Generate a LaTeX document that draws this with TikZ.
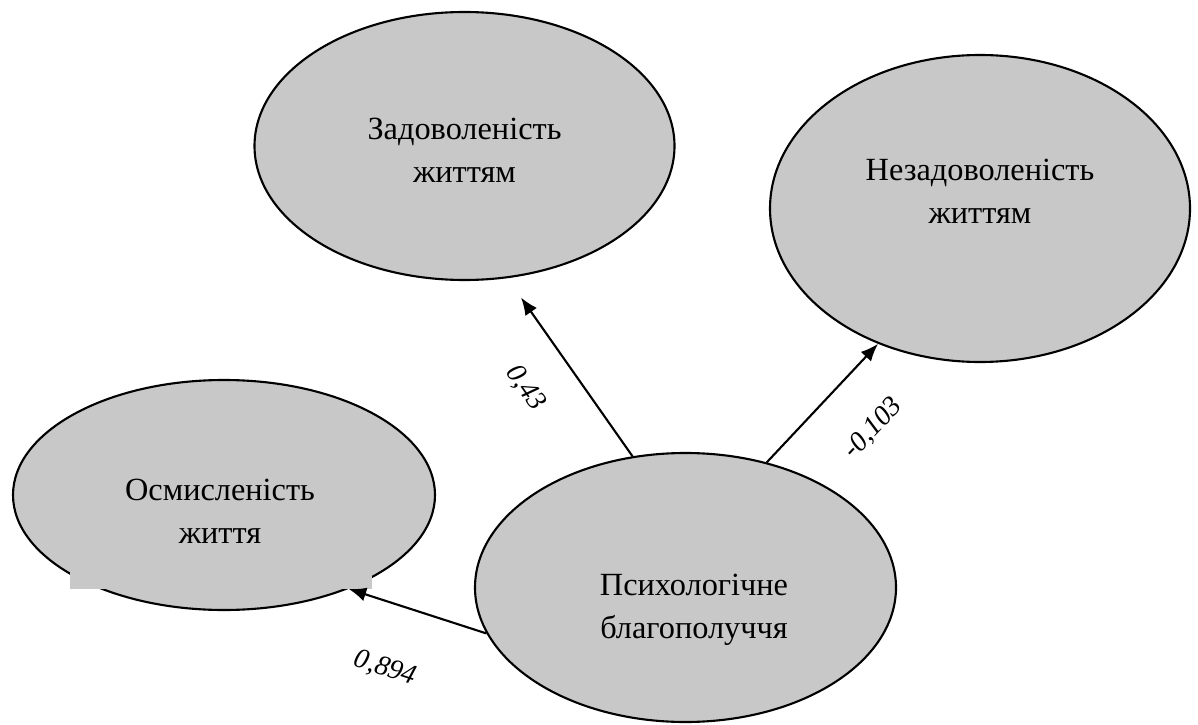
\documentclass[tikz,border=0pt]{standalone}
\usepackage{fontspec}
\setmainfont{Liberation Serif}
\usetikzlibrary{shapes.geometric, arrows.meta, positioning}
\definecolor{ovalgray}{RGB}{200,200,200}

\begin{document}
\begin{tikzpicture}[
  oval/.style={ellipse, draw, line width=0.6pt, fill=ovalgray, inner sep=0pt},
  txt/.style={font=\fontsize{9.2}{12.3}\selectfont, align=center, inner sep=0pt},
  arrowline/.style={-{Latex[length=5pt, width=4pt]}, line width=0.6pt},
  wlabel/.style={font=\fontsize{8}{9}\selectfont\itshape, inner sep=0pt, sloped}
]
  \useasboundingbox (0,0) rectangle (11.98,7.24);

  \node[oval, minimum width=4.2cm, minimum height=2.68cm,
        label={[txt, yshift=-0.04cm]center:{Задоволеність\\життям}}] (sat) at (4.645,5.78) {};
  \node[oval, minimum width=4.2cm, minimum height=3.07cm,
        label={[txt, yshift=0.17cm]center:{Незадоволеність\\життям}}] (dis) at (9.80,5.155) {};
  \node[oval, minimum width=4.22cm, minimum height=2.30cm,
        label={[txt, xshift=-0.04cm, yshift=-0.16cm]center:{Осмисленість\\життя}}] (mean) at (2.24,2.29) {};
  \fill[ovalgray] (0.70,1.35) rectangle (3.72,1.54);
  \node[oval, minimum width=4.21cm, minimum height=2.69cm,
        label={[txt, xshift=0.085cm, yshift=-0.22cm]center:{Психологічне\\благополуччя}}] (psy) at (6.855,1.365) {};

  \draw[arrowline, shorten >=0.235cm] (psy.112) -- node[wlabel, pos=0.54, below=0.36cm] (w1) {0,43} (sat.288);
  \draw[arrowline] (psy.57) -- node[wlabel, pos=0.6, below=0.42cm] (w2) {-0,103} (dis.233);
  \draw[arrowline] (psy.193) -- node[wlabel, pos=0.59, below=0.52cm] (w3) {0,894} (mean.323);
\end{tikzpicture}
\end{document}
